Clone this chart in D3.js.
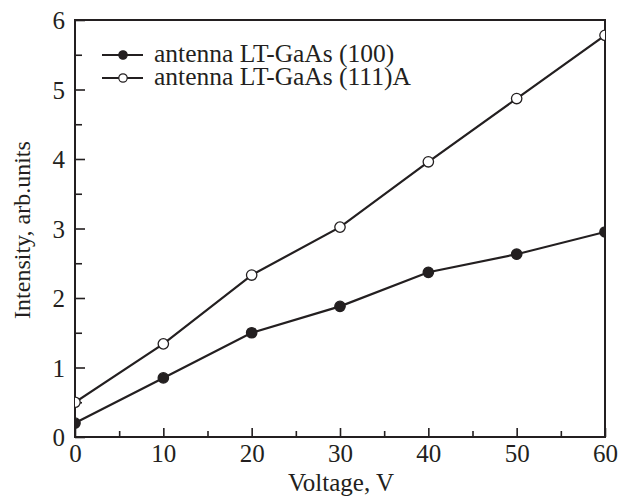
<!DOCTYPE html>
<html>
<head>
<meta charset="utf-8">
<script src="https://cdn.jsdelivr.net/npm/d3@7"></script>
<style>
  body { margin: 0; background: #fff; }
  text { font-family: "Liberation Serif", "Times New Roman", serif; fill: #231f20; }
</style>
</head>
<body>
<div id="chart"></div>
<script>
// data
const voltage = [0, 10, 20, 30, 40, 50, 60];
const lt100 = [0.2, 0.85, 1.5, 1.88, 2.37, 2.63, 2.95];
const lt111A = [0.5, 1.34, 2.33, 3.02, 3.96, 4.87, 5.78];
const seriesNames = ['antenna LT-GaAs (100)', 'antenna LT-GaAs (111)A'];
const xTicks = [0, 10, 20, 30, 40, 50, 60];
const yTicks = [0, 1, 2, 3, 4, 5, 6];

const width = 629, height = 498;
const margin = {top: 20, right: 24, bottom: 61, left: 75};
const ink = '#231f20';

const svg = d3.select('#chart').append('svg')
  .attr('width', width)
  .attr('height', height);

const x = d3.scaleLinear().domain([0, 60]).range([margin.left, width - margin.right]);
const y = d3.scaleLinear().domain([0, 6]).range([height - margin.bottom, margin.top]);

// clip so edge markers get cut like in the original
svg.append('clipPath').attr('id', 'plotclip')
  .append('rect')
  .attr('x', x(0)).attr('y', y(6))
  .attr('width', x(60) - x(0)).attr('height', y(0) - y(6));

// ticks pointing inward, minor ticks halfway
const minorX = d3.range(5, 60, 10);
const minorY = d3.range(0.5, 6, 1);

const xAxis = svg.append('g')
  .attr('transform', `translate(0,${y(0)})`)
  .call(d3.axisBottom(x).tickValues(xTicks).tickSize(-9).tickPadding(7).tickFormat(d3.format('d')));
svg.append('g')
  .attr('transform', `translate(0,${y(0)})`)
  .call(d3.axisBottom(x).tickValues(minorX).tickSize(-6).tickFormat(''));

const yAxis = svg.append('g')
  .attr('transform', `translate(${x(0)},0)`)
  .call(d3.axisLeft(y).tickValues(yTicks).tickSize(-10).tickPadding(10).tickFormat(d3.format('d')));
svg.append('g')
  .attr('transform', `translate(${x(0)},0)`)
  .call(d3.axisLeft(y).tickValues(minorY).tickSize(-7).tickFormat(''));

svg.selectAll('.domain').remove();
svg.selectAll('.tick line').attr('stroke', ink).attr('stroke-width', 1.6);
svg.selectAll('.tick text')
  .style('font-size', '25px')
  .attr('fill', ink);
xAxis.selectAll('.tick text').attr('dy', '0.71em');
yAxis.selectAll('.tick text').attr('dy', '0.35em');

// frame
svg.append('rect')
  .attr('x', x(0)).attr('y', y(6))
  .attr('width', x(60) - x(0)).attr('height', y(0) - y(6))
  .attr('fill', 'none')
  .attr('stroke', ink)
  .attr('stroke-width', 2);

// axis titles
svg.append('text')
  .attr('x', 341)
  .attr('y', 491)
  .attr('text-anchor', 'middle')
  .style('font-size', '25px')
  .text('Voltage, V');

svg.append('text')
  .attr('transform', `translate(30,230) rotate(-90)`)
  .attr('text-anchor', 'middle')
  .style('font-size', '24px')
  .text('Intensity, arb.units');

// series
const series = [
  {name: seriesNames[0], values: lt100, fill: ink},
  {name: seriesNames[1], values: lt111A, fill: '#fff'}
];

const line = d3.line()
  .x((d, i) => x(voltage[i]))
  .y(d => y(d));

const plot = svg.append('g').attr('clip-path', 'url(#plotclip)');

series.forEach(s => {
  plot.append('path')
    .datum(s.values)
    .attr('d', line)
    .attr('fill', 'none')
    .attr('stroke', ink)
    .attr('stroke-width', 2.2);

  plot.selectAll(null)
    .data(s.values)
    .enter()
    .append('circle')
    .attr('cx', (d, i) => x(voltage[i]))
    .attr('cy', d => y(d))
    .attr('r', 5.2)
    .attr('fill', s.fill)
    .attr('stroke', ink)
    .attr('stroke-width', 1.3);
});

// legend
const legend = svg.append('g');
series.forEach((s, i) => {
  const ly = 55 + i * 23;
  legend.append('line')
    .attr('x1', 102).attr('x2', 143)
    .attr('y1', ly).attr('y2', ly)
    .attr('stroke', ink)
    .attr('stroke-width', 1.8);
  legend.append('circle')
    .attr('cx', 123).attr('cy', ly)
    .attr('r', 4.2)
    .attr('fill', s.fill)
    .attr('stroke', ink)
    .attr('stroke-width', 1.2);
  legend.append('text')
    .attr('x', 154).attr('y', ly)
    .attr('dy', '0.27em')
    .style('font-size', '25.5px')
    .text(s.name);
});
</script>
</body>
</html>
